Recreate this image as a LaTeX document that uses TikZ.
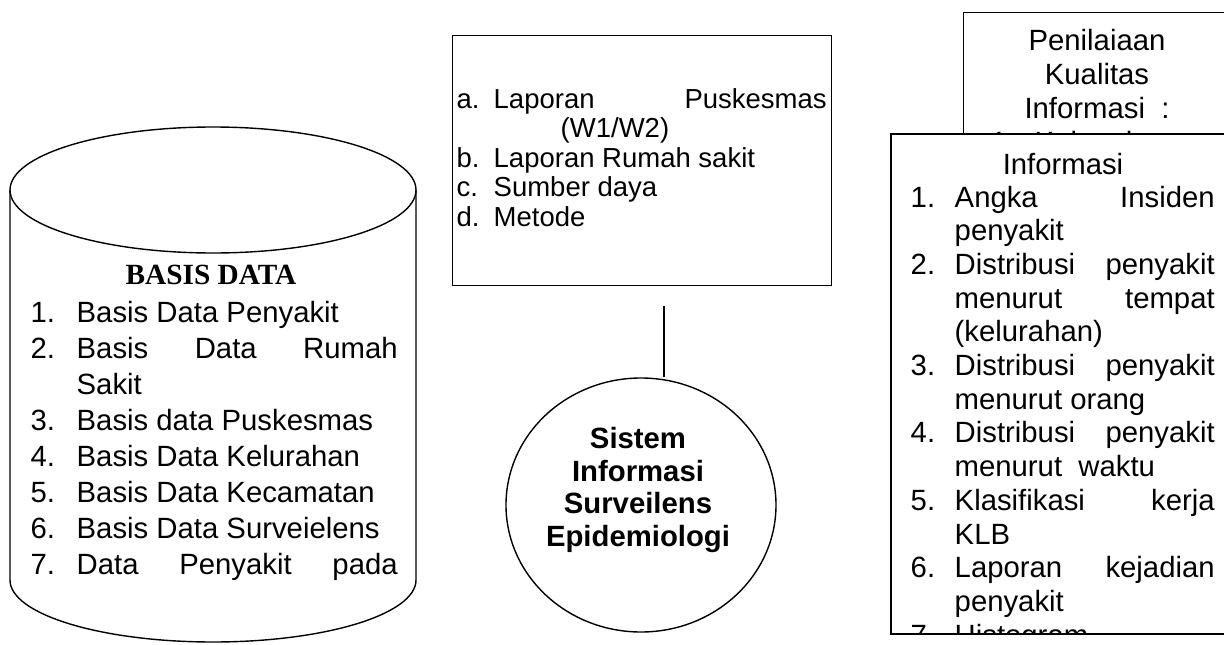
\documentclass[tikz,border=0pt]{standalone}
\usepackage{fontspec}
\setmainfont{Liberation Sans}
\newfontfamily\timesfont{Liberation Serif}
\usetikzlibrary{shapes.geometric}
\newcommand\fbody{\fontsize{29.3}{34}\selectfont}
\newcommand\fmid{\fontsize{27.5}{29}\selectfont}
\begin{document}
\begin{tikzpicture}[x=1pt,y=-1pt,line width=1.4pt,
  txt/.style={inner sep=0pt,anchor=base west,font=\fbody},
  txc/.style={inner sep=0pt,anchor=base,font=\fbody},
  mtxt/.style={inner sep=0pt,anchor=base west,font=\fmid},
  panel/.style={draw,anchor=north west,inner sep=0pt}]
\useasboundingbox (0,0) rectangle (1224,645);
\clip (0,0) rectangle (1224,645);

% database cylinder
\draw (10,190) -- (10,580) arc[start angle=180,end angle=360,x radius=203pt,y radius=62pt] -- (416,190);
\draw (213,190) ellipse [x radius=203pt,y radius=63pt];
\node[inner sep=0pt,anchor=base,font=\timesfont\bfseries\fontsize{29.3}{34}\selectfont] (dbtitle) at (211,284) {BASIS DATA};
\node[txt] (d1n) at (30,322) {1.};
\node[txt] (d1) at (76,322) {Basis Data Penyakit};
\node[txt] (d2n) at (30,358) {2.};
\node[txt] (d2) at (76,358) {\hbox to 321pt{Basis\hfill Data\hfill Rumah}};
\node[txt] (d2b) at (76,394) {Sakit};
\node[txt] (d3n) at (30,430) {3.};
\node[txt] (d3) at (76,430) {Basis data Puskesmas};
\node[txt] (d4n) at (30,466) {4.};
\node[txt] (d4) at (76,466) {Basis Data Kelurahan};
\node[txt] (d5n) at (30,502) {5.};
\node[txt] (d5) at (76,502) {Basis Data Kecamatan};
\node[txt] (d6n) at (30,538) {6.};
\node[txt] (d6) at (76,538) {Basis Data Surveielens};
\node[txt] (d7n) at (30,574) {7.};
\node[txt] (d7) at (76,574) {\hbox to 321pt{Data\hfill Penyakit\hfill pada}};

% data sources box
\node[panel,minimum width=379pt,minimum height=250pt] (src) at (452,35) {};
\node[mtxt] (sa) at (456,108) {a.};
\node[mtxt] (sat) at (493,108) {\hbox to 333pt{Laporan\hfill Puskesmas}};
\node[mtxt] (sa2) at (560,137) {(W1/W2)};
\node[mtxt] (sb) at (456,167) {b.};
\node[mtxt] (sbt) at (493,167) {Laporan Rumah sakit};
\node[mtxt] (sc) at (456,196) {c.};
\node[mtxt] (sct) at (493,196) {Sumber daya};
\node[mtxt] (sd) at (456,226) {d.};
\node[mtxt] (sdt) at (493,226) {Metode};

% central system
\node[draw,ellipse,inner sep=0pt,minimum width=270pt,minimum height=254pt] (sys) at (641,505) {};
\node[inner sep=0pt,align=center,font=\bfseries\fontsize{29.3}{32.5}\selectfont] (syslabel) at (638,490)
      {Sistem\\Informasi\\Surveilens\\Epidemiologi};
\coordinate (linkTop) at (664,306);
\draw (linkTop) -- (linkTop |- sys.north);

% quality assessment box (behind)
\node[panel,minimum width=400pt,minimum height=200pt] (qual) at (963,12) {};
\node[txc] (q1) at (1097,50) {Penilaiaan};
\node[txc] (q2) at (1097,84) {Kualitas};
\node[txc] (q3) at (1097,118) {Informasi\ \ :};
\node[txt] (q4n) at (990,152) {1.};
\node[txt] (q4) at (1034,152) {Kelengkapan};

% information box (front)
\node[panel,fill=white,minimum width=450pt,minimum height=499pt] (info) at (891,134) {};
\begin{scope}
\clip (info.south west) rectangle (info.north east);
\node[txc] (ih) at (1063,174) {Informasi};
\node[txt] (i1n) at (910,207) {1.};
\node[txt] (i1) at (954,207) {\hbox to 260pt{Angka\hfill Insiden}};
\node[txt] (i1b) at (954,240.7) {penyakit};
\node[txt] (i2n) at (910,274.4) {2.};
\node[txt] (i2) at (954,274.4) {\hbox to 260pt{Distribusi\hfill penyakit}};
\node[txt] (i2b) at (954,308.1) {\hbox to 260pt{menurut\hfill tempat}};
\node[txt] (i2c) at (954,341.8) {(kelurahan)};
\node[txt] (i3n) at (910,375.5) {3.};
\node[txt] (i3) at (954,375.5) {\hbox to 260pt{Distribusi\hfill penyakit}};
\node[txt] (i3b) at (954,409.2) {menurut orang};
\node[txt] (i4n) at (910,442.9) {4.};
\node[txt] (i4) at (954,442.9) {\hbox to 260pt{Distribusi\hfill penyakit}};
\node[txt] (i4b) at (954,476.6) {menurut\ \ waktu};
\node[txt] (i5n) at (910,510.3) {5.};
\node[txt] (i5) at (954,510.3) {\hbox to 260pt{Klasifikasi\hfill kerja}};
\node[txt] (i5b) at (954,544) {KLB};
\node[txt] (i6n) at (910,577.7) {6.};
\node[txt] (i6) at (954,577.7) {\hbox to 260pt{Laporan\hfill kejadian}};
\node[txt] (i6b) at (954,611.4) {penyakit};
\node[txt] (i7n) at (910,645.1) {7.};
\node[txt] (i7) at (954,645.1) {Histogram};
\end{scope}
\draw (info.north west) rectangle (info.south east);
\end{tikzpicture}
\end{document}
